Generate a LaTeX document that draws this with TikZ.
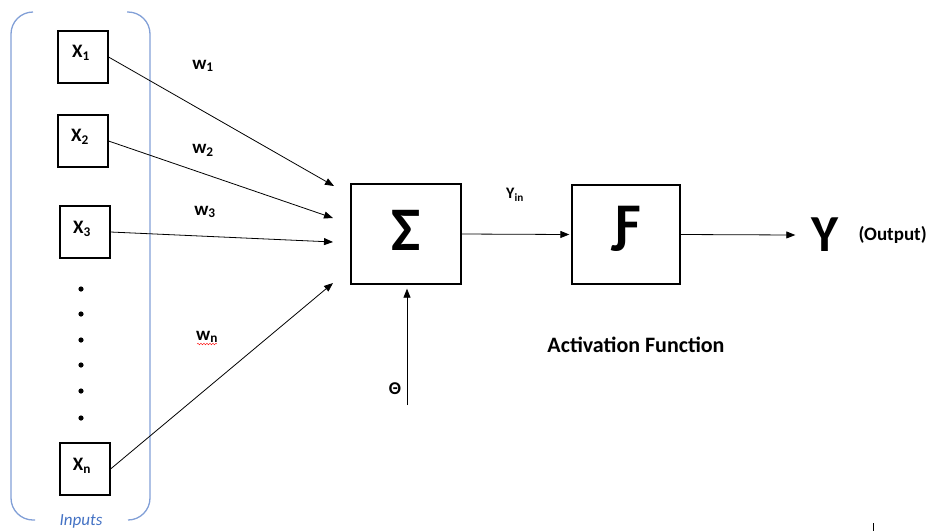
\documentclass[tikz,border=0pt]{standalone}
\usepackage{fontspec}
\setmainfont{Carlito}
\usetikzlibrary{arrows.meta,decorations.pathmorphing}

\definecolor{bracketblue}{RGB}{130,160,215}
\definecolor{labelblue}{RGB}{68,114,196}

\tikzset{
    inbox/.style={draw, line width=1.1pt, minimum width=50pt, minimum height=52pt, inner sep=0pt},
    bigbox/.style={draw, line width=1.3pt, minimum width=110pt, minimum height=100pt, inner sep=0pt},
    lbl/.style={font=\fontsize{19}{19}\selectfont\bfseries, inner sep=0pt},
    arr/.style={-{Triangle[length=9pt, width=7pt]}, line width=0.8pt}
}

\begin{document}
\begin{tikzpicture}[x=1pt, y=-1pt]
        \useasboundingbox (0,0) rectangle (933,531);

        % input column
        \draw [bracketblue, line width=1.3pt, rounded corners=22pt] (33,12) -- (11,12) -- (11,520) -- (35,520);
        \draw [bracketblue, line width=1.3pt, rounded corners=22pt] (127,12) -- (150,12) -- (150,520) -- (128,520);
        \node [font=\fontsize{17}{17}\selectfont\itshape, text=labelblue] (inputs) at (81,521) {Inputs};

        \node [inbox] (x1) at (83,57) {};
        \node [inbox] (x2) at (83,141) {};
        \node [inbox] (x3) at (85,232) {};
        \node [inbox] (xn) at (85,469) {};
        \node [lbl] at (81,53) {X\textsubscript{1}};
        \node [lbl] at (80,137) {X\textsubscript{2}};
        \node [lbl] at (82,229) {X\textsubscript{3}};
        \node [lbl] at (82,466) {X\textsubscript{n}};

        \foreach \y in {289,314,340,365,391,418}
            \fill (81,\y) circle (2.6pt);

        % summation and activation
        \node [bigbox] (sum) at (406,234) {};
        \node [font=\fontsize{62}{62}\selectfont\bfseries] at (406,230) {Σ};
        \node [bigbox, minimum width=108pt, minimum height=99pt] (act) at (626,234.5) {};
        \node [font=\fontsize{56}{56}\selectfont\bfseries] at (628,229) {Ƒ};

        \coordinate (s1) at (334,186);
        \coordinate (s2) at (333,218);
        \coordinate (s3) at (333,242);
        \coordinate (sn) at (333,283);

        \draw [arr] (x1.east) -- (s1);
        \draw [arr] (x2.east) -- (s2);
        \draw [arr] (x3.east) -- (s3);
        \draw [arr] (xn.east) -- (sn);

        \node [lbl] (w1) at (203,66) {w\textsubscript{1}};
        \node [lbl] (w2) at (203,150) {w\textsubscript{2}};
        \node [lbl] (w3) at (205,212) {w\textsubscript{3}};
        \node [lbl] (wn) at (207,337) {w\textsubscript{n}};
        \draw [red, decorate, decoration={snake, amplitude=0.8pt, segment length=3pt}] (197,344) -- (217,344);

        % bias
        \coordinate (th0) at (407,405);
        \draw [arr] (th0) -- ([yshift=-4pt]th0 |- sum.south);
        \node [font=\fontsize{18}{18}\selectfont\bfseries] (theta) at (395,389) {Θ};

        \draw [arr] (sum.east) -- ([xshift=-2pt]act.west);
        \node [font=\fontsize{16}{16}\selectfont\bfseries] (yin) at (515,195) {Y\textsubscript{in}};

        % output
        \node [font=\fontsize{52}{52}\selectfont\bfseries, inner sep=0pt] (y) at (825,235) {Y};
        \draw [arr] (act.east) -- ([xshift=-16pt]y.west);
        \node [font=\fontsize{19}{19}\selectfont\bfseries, anchor=west] (outlbl) at (855,235) {(Output)};

        \node [font=\fontsize{22}{22}\selectfont\bfseries] (actlbl) at (636,345) {Activation Function};

        \draw [thin] (873,523) -- (873,531);
    \end{tikzpicture}
\end{document}
